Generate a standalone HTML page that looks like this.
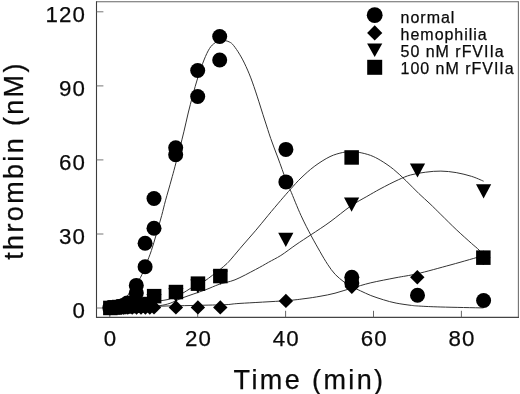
<!DOCTYPE html>
<html><head><meta charset="utf-8"><title>chart</title>
<style>
html,body{margin:0;padding:0;background:#fff;}
body{width:520px;height:394px;overflow:hidden;position:relative;}
svg{will-change:transform;}
svg text{font-family:"Liberation Sans",sans-serif;fill:#0a0a0a;stroke:#0a0a0a;stroke-width:0.25px;}
</style></head><body>
<svg width="520" height="394" viewBox="0 0 520 394" style="position:absolute;left:0;top:0">
<path d="M96.5,1.8 H518.4" stroke="#666" stroke-width="1.1" fill="none"/>
<path d="M518.4,1.3 V318.1" stroke="#707070" stroke-width="1.1" fill="none"/>
<path d="M96.5,1.3 V318" stroke="#3c3c3c" stroke-width="1.1" fill="none"/>
<path d="M96,317.4 H518.9" stroke="#444" stroke-width="1.1" fill="none"/>
<line x1="96.5" x2="103.4" y1="308.0" y2="308.0" stroke="#666" stroke-width="0.9"/>
<line x1="96.5" x2="103.4" y1="234.0" y2="234.0" stroke="#666" stroke-width="0.9"/>
<line x1="96.5" x2="103.4" y1="159.9" y2="159.9" stroke="#666" stroke-width="0.9"/>
<line x1="96.5" x2="103.4" y1="85.9" y2="85.9" stroke="#666" stroke-width="0.9"/>
<line x1="96.5" x2="103.4" y1="11.8" y2="11.8" stroke="#666" stroke-width="0.9"/>
<line y1="317.6" y2="310.8" x1="109.8" x2="109.8" stroke="#555" stroke-width="0.9"/>
<line y1="317.6" y2="310.8" x1="197.7" x2="197.7" stroke="#555" stroke-width="0.9"/>
<line y1="317.6" y2="310.8" x1="285.6" x2="285.6" stroke="#555" stroke-width="0.9"/>
<line y1="317.6" y2="310.8" x1="373.5" x2="373.5" stroke="#555" stroke-width="0.9"/>
<line y1="317.6" y2="310.8" x1="461.4" x2="461.4" stroke="#555" stroke-width="0.9"/>
<path d="M109.5,307.8 C110.4,307.6 113.2,307.0 115.0,306.3 C116.8,305.6 118.3,305.0 120.0,303.8 C121.7,302.6 123.7,300.8 125.2,299.0 C126.8,297.2 127.8,295.1 129.3,293.0 C130.8,290.9 132.2,289.1 134.0,286.5 C135.8,283.9 138.4,281.4 140.4,277.7 C142.4,274.0 144.2,269.0 146.0,264.5 C147.8,260.0 149.7,255.7 151.4,250.5 C153.2,245.3 154.8,239.3 156.5,233.5 C158.2,227.7 160.2,221.1 161.7,215.5 C163.2,209.9 164.0,206.1 165.6,200.2 C167.2,194.3 169.8,185.6 171.3,180.0 C172.9,174.4 173.5,172.1 174.9,166.8 C176.3,161.6 178.2,154.4 179.7,148.5 C181.2,142.6 182.6,137.1 184.0,131.2 C185.4,125.3 186.8,118.9 188.2,113.0 C189.6,107.1 191.1,101.6 192.7,95.6 C194.3,89.6 196.1,82.9 198.0,77.0 C199.9,71.1 202.1,64.8 204.0,60.0 C205.9,55.2 207.7,51.4 209.5,48.5 C211.3,45.6 213.2,44.1 215.0,42.8 C216.8,41.5 218.3,41.1 220.0,40.7 C221.7,40.3 223.5,40.4 225.0,40.6 C226.5,40.8 227.8,41.2 229.0,41.8 C230.2,42.4 231.0,42.6 232.5,44.2 C234.0,45.9 236.0,48.6 238.0,51.7 C240.0,54.9 242.3,58.7 244.4,63.1 C246.5,67.5 248.7,72.4 250.8,77.9 C252.9,83.4 254.8,89.1 257.1,96.1 C259.4,103.1 262.4,113.0 264.7,120.0 C267.0,127.0 268.5,132.1 270.7,138.4 C272.9,144.7 275.4,151.1 278.0,158.0 C280.6,164.9 283.9,174.6 286.0,180.0 C288.1,185.4 287.9,184.3 290.4,190.2 C292.9,196.1 297.5,207.9 301.0,215.5 C304.5,223.1 308.0,229.8 311.2,235.8 C314.4,241.8 317.3,246.8 320.0,251.6 C322.7,256.4 325.1,260.5 327.6,264.3 C330.1,268.1 332.4,271.4 335.2,274.4 C337.9,277.3 341.3,279.9 344.1,282.0 C346.9,284.1 349.2,285.3 352.0,286.8 C354.8,288.3 357.5,289.4 360.6,290.9 C363.7,292.3 367.0,294.0 370.8,295.5 C374.6,297.0 379.3,298.5 383.5,299.8 C387.7,301.1 391.5,302.2 396.1,303.1 C400.8,304.0 407.4,304.9 411.4,305.4 C415.4,305.9 415.1,305.8 420.0,306.1 C424.9,306.4 430.3,306.7 440.9,307.0 C451.5,307.3 476.4,307.8 483.5,307.9" fill="none" stroke="#333" stroke-width="1"/>
<path d="M109.5,307.8 C112.9,307.5 123.9,306.8 130.0,306.0 C136.1,305.2 142.2,303.9 146.0,303.2 C149.8,302.5 150.7,302.4 153.0,302.0 C155.3,301.6 157.5,301.2 160.0,300.8 C162.5,300.4 165.4,300.2 168.0,299.5 C170.6,298.8 173.1,297.6 175.6,296.5 C178.1,295.4 180.6,294.3 183.0,293.0 C185.4,291.7 187.9,289.9 190.3,288.5 C192.7,287.1 195.2,286.0 197.6,284.7 C200.0,283.4 202.6,282.4 205.0,280.8 C207.4,279.2 209.8,277.3 212.3,275.4 C214.8,273.5 217.6,271.5 220.0,269.5 C222.4,267.5 225.0,265.4 227.0,263.5 C229.0,261.6 229.3,261.1 232.0,258.0 C234.7,254.9 239.1,249.5 243.0,245.0 C246.9,240.5 251.2,235.7 255.4,230.8 C259.6,225.9 263.8,220.6 268.0,215.5 C272.2,210.4 277.0,204.8 280.8,200.3 C284.6,195.9 287.5,192.5 290.9,188.8 C294.3,185.1 297.1,181.7 301.0,178.0 C304.9,174.3 309.4,170.1 314.2,166.5 C319.0,162.9 325.2,158.9 330.0,156.6 C334.8,154.3 339.2,153.3 342.7,152.5 C346.2,151.7 348.2,151.8 351.0,151.8 C353.8,151.8 355.9,151.8 359.2,152.4 C362.5,153.0 367.0,154.1 370.6,155.4 C374.2,156.8 377.0,158.2 380.8,160.5 C384.6,162.8 389.3,165.9 393.5,169.3 C397.7,172.7 401.9,176.8 406.1,180.8 C410.3,184.8 414.8,189.7 418.8,193.5 C422.8,197.3 426.3,200.3 430.0,203.8 C433.7,207.3 436.5,210.2 440.9,214.5 C445.3,218.8 451.1,224.7 456.2,229.5 C461.3,234.3 467.6,239.9 471.4,243.3 C475.2,246.7 476.9,247.8 479.0,250.0 C481.1,252.2 483.0,255.4 483.8,256.5" fill="none" stroke="#333" stroke-width="1"/>
<path d="M109.5,307.8 C112.9,307.7 123.9,307.5 130.0,307.3 C136.1,307.1 141.0,307.1 146.0,306.8 C151.0,306.5 156.0,306.2 160.0,305.6 C164.0,305.0 166.2,304.6 170.0,303.3 C173.8,302.0 177.2,299.9 183.0,297.7 C188.8,295.5 199.0,292.2 205.0,290.0 C211.0,287.8 214.2,286.0 219.2,284.3 C224.2,282.6 229.0,282.2 235.0,279.8 C241.0,277.4 249.8,272.5 255.4,269.6 C261.0,266.7 264.3,264.7 268.5,262.3 C272.7,259.9 276.2,258.4 280.8,255.5 C285.4,252.6 290.9,248.2 296.0,244.7 C301.1,241.2 305.5,238.4 311.2,234.6 C316.9,230.8 323.4,226.7 330.0,221.9 C336.6,217.1 344.7,210.2 350.8,206.0 C356.9,201.8 361.9,199.3 366.8,196.5 C371.7,193.7 374.8,191.8 380.0,189.0 C385.2,186.2 393.2,182.1 398.3,179.8 C403.4,177.5 405.9,176.3 410.5,175.0 C415.1,173.7 420.6,172.8 425.7,172.2 C430.8,171.5 435.8,171.0 440.9,171.1 C446.0,171.2 451.1,171.7 456.2,172.6 C461.3,173.5 466.8,174.9 471.4,176.3 C476.0,177.7 481.6,180.4 483.6,181.2" fill="none" stroke="#333" stroke-width="1"/>
<path d="M109.5,308.0 C117.9,307.7 144.1,306.7 160.0,306.2 C175.9,305.7 193.8,305.5 205.0,305.2 C216.2,304.9 221.2,304.9 227.0,304.6 C232.8,304.3 230.2,304.0 240.0,303.4 C249.8,302.8 274.8,301.5 285.6,300.7 C296.4,299.9 299.3,299.3 305.0,298.6 C310.7,297.9 315.0,297.2 320.0,296.3 C325.0,295.4 329.7,294.6 335.0,293.2 C340.3,291.8 345.6,289.9 351.6,288.2 C357.6,286.5 363.4,284.6 370.8,282.8 C378.2,281.1 388.3,279.2 396.0,277.7 C403.7,276.2 407.8,275.9 417.0,273.8 C426.2,271.7 439.9,267.8 451.0,264.8 C462.1,261.8 478.1,257.1 483.5,255.6" fill="none" stroke="#333" stroke-width="1"/>
<path d="M110.3,300.4 L117.5,307.6 L110.3,314.8 L103.1,307.6 Z" fill="#000"/>
<path d="M114.7,300.4 L121.9,307.6 L114.7,314.8 L107.5,307.6 Z" fill="#000"/>
<path d="M119.1,300.4 L126.3,307.6 L119.1,314.8 L111.9,307.6 Z" fill="#000"/>
<path d="M123.5,300.4 L130.7,307.6 L123.5,314.8 L116.3,307.6 Z" fill="#000"/>
<path d="M127.8,300.4 L135.0,307.6 L127.8,314.8 L120.6,307.6 Z" fill="#000"/>
<path d="M132.2,300.4 L139.4,307.6 L132.2,314.8 L125.0,307.6 Z" fill="#000"/>
<path d="M136.6,300.4 L143.8,307.6 L136.6,314.8 L129.4,307.6 Z" fill="#000"/>
<path d="M141.0,300.3 L148.2,307.5 L141.0,314.7 L133.8,307.5 Z" fill="#000"/>
<path d="M145.4,300.3 L152.6,307.5 L145.4,314.7 L138.2,307.5 Z" fill="#000"/>
<path d="M149.8,300.3 L157.0,307.5 L149.8,314.7 L142.6,307.5 Z" fill="#000"/>
<path d="M154.0,300.2 L161.2,307.4 L154.0,314.6 L146.8,307.4 Z" fill="#000"/>
<path d="M175.9,300.2 L183.1,307.4 L175.9,314.6 L168.7,307.4 Z" fill="#000"/>
<path d="M197.9,300.2 L205.1,307.4 L197.9,314.6 L190.7,307.4 Z" fill="#000"/>
<path d="M220.3,300.2 L227.5,307.4 L220.3,314.6 L213.1,307.4 Z" fill="#000"/>
<path d="M285.9,293.7 L293.1,300.9 L285.9,308.1 L278.7,300.9 Z" fill="#000"/>
<path d="M351.8,279.6 L359.0,286.8 L351.8,294.0 L344.6,286.8 Z" fill="#000"/>
<path d="M417.3,270.1 L424.5,277.3 L417.3,284.5 L410.1,277.3 Z" fill="#000"/>
<path d="M483.3,250.5 L490.5,257.7 L483.3,264.9 L476.1,257.7 Z" fill="#000"/>
<path d="M278.2,232.8 L293.4,232.8 L285.8,247.0 Z" fill="#000"/>
<path d="M344.0,197.5 L359.2,197.5 L351.6,211.7 Z" fill="#000"/>
<path d="M409.9,163.4 L425.1,163.4 L417.5,177.6 Z" fill="#000"/>
<path d="M476.0,184.2 L491.2,184.2 L483.6,198.4 Z" fill="#000"/>
<path d="M190.3,279.4 L205.5,279.4 L197.9,293.6 Z" fill="#000"/>
<path d="M212.7,270.5 L227.9,270.5 L220.3,284.7 Z" fill="#000"/>
<path d="M168.3,288.2 L183.5,288.2 L175.9,302.4 Z" fill="#000"/>
<path d="M146.4,294.2 L161.6,294.2 L154.0,308.4 Z" fill="#000"/>
<rect x="103.1" y="300.7" width="14.5" height="14.5" fill="#000"/>
<rect x="107.5" y="300.2" width="14.5" height="14.5" fill="#000"/>
<rect x="112.0" y="299.8" width="14.5" height="14.5" fill="#000"/>
<rect x="116.3" y="299.2" width="14.5" height="14.5" fill="#000"/>
<rect x="120.6" y="298.8" width="14.5" height="14.5" fill="#000"/>
<rect x="125.1" y="298.4" width="14.5" height="14.5" fill="#000"/>
<rect x="129.5" y="298.1" width="14.5" height="14.5" fill="#000"/>
<rect x="133.8" y="297.8" width="14.5" height="14.5" fill="#000"/>
<rect x="138.2" y="297.2" width="14.5" height="14.5" fill="#000"/>
<rect x="142.6" y="296.8" width="14.5" height="14.5" fill="#000"/>
<rect x="146.9" y="288.9" width="14.5" height="14.5" fill="#000"/>
<rect x="168.7" y="284.8" width="14.5" height="14.5" fill="#000"/>
<rect x="190.7" y="276.4" width="14.5" height="14.5" fill="#000"/>
<rect x="213.1" y="268.8" width="14.5" height="14.5" fill="#000"/>
<rect x="344.4" y="150.2" width="14.5" height="14.5" fill="#000"/>
<rect x="476.1" y="250.4" width="14.5" height="14.5" fill="#000"/>
<circle cx="219.7" cy="36.5" r="7.5" fill="#000"/>
<circle cx="219.7" cy="60.0" r="7.5" fill="#000"/>
<circle cx="197.7" cy="70.5" r="7.5" fill="#000"/>
<circle cx="197.7" cy="96.5" r="7.5" fill="#000"/>
<circle cx="175.7" cy="147.7" r="7.5" fill="#000"/>
<circle cx="175.7" cy="154.8" r="7.5" fill="#000"/>
<circle cx="154.0" cy="198.5" r="7.5" fill="#000"/>
<circle cx="154.0" cy="228.3" r="7.5" fill="#000"/>
<circle cx="145.1" cy="243.2" r="7.5" fill="#000"/>
<circle cx="145.1" cy="266.8" r="7.5" fill="#000"/>
<circle cx="136.3" cy="285.4" r="7.5" fill="#000"/>
<circle cx="136.3" cy="293.0" r="7.5" fill="#000"/>
<circle cx="285.9" cy="149.4" r="7.5" fill="#000"/>
<circle cx="285.9" cy="181.9" r="7.5" fill="#000"/>
<circle cx="351.8" cy="277.2" r="7.5" fill="#000"/>
<circle cx="351.8" cy="283.0" r="7.5" fill="#000"/>
<circle cx="417.5" cy="295.3" r="7.5" fill="#000"/>
<circle cx="483.6" cy="300.5" r="7.5" fill="#000"/>
<circle cx="127.3" cy="303.0" r="7.5" fill="#000"/>
<circle cx="123.0" cy="305.5" r="7.5" fill="#000"/>
<circle cx="118.6" cy="306.8" r="7.5" fill="#000"/>
<circle cx="114.2" cy="307.4" r="7.5" fill="#000"/>
<circle cx="109.8" cy="307.7" r="7.5" fill="#000"/>
<circle cx="374.7" cy="15.2" r="7.9" fill="#000"/>
<path d="M374.7,25.3 L382.3,32.9 L374.7,40.5 L367.1,32.9 Z" fill="#000"/>
<path d="M367.1,43.4 L382.3,43.4 L374.7,57.1 Z" fill="#000"/>
<rect x="367.2" y="59.8" width="15" height="15" fill="#000"/>
<text x="86.1" y="318.2" font-size="22.3" text-anchor="end" letter-spacing="1.10" >0</text>
<text x="86.1" y="244.2" font-size="22.3" text-anchor="end" letter-spacing="1.10" >30</text>
<text x="86.1" y="170.1" font-size="22.3" text-anchor="end" letter-spacing="1.10" >60</text>
<text x="86.1" y="96.1" font-size="22.3" text-anchor="end" letter-spacing="1.10" >90</text>
<text x="86.1" y="22.0" font-size="22.3" text-anchor="end" letter-spacing="1.10" >120</text>
<text x="110.5" y="346.1" font-size="22.3" text-anchor="middle" letter-spacing="1.10" >0</text>
<text x="198.4" y="346.1" font-size="22.3" text-anchor="middle" letter-spacing="1.10" >20</text>
<text x="286.3" y="346.1" font-size="22.3" text-anchor="middle" letter-spacing="1.10" >40</text>
<text x="374.2" y="346.1" font-size="22.3" text-anchor="middle" letter-spacing="1.10" >60</text>
<text x="462.1" y="346.1" font-size="22.3" text-anchor="middle" letter-spacing="1.10" >80</text>
<text x="400.6" y="22.8" font-size="16.0" text-anchor="start" letter-spacing="0.97" >normal</text>
<text x="400.6" y="39.9" font-size="16.0" text-anchor="start" letter-spacing="0.97" >hemophilia</text>
<text x="400.6" y="57.0" font-size="16.0" text-anchor="start" letter-spacing="0.97" >50 nM rFVIIa</text>
<text x="400.6" y="74.1" font-size="16.0" text-anchor="start" letter-spacing="0.97" >100 nM rFVIIa</text>
<text x="309.5" y="389.0" font-size="27.0" text-anchor="middle" letter-spacing="2.40" >Time (min)</text>
<text transform="translate(22.5,160.5) rotate(-90)" font-size="27" text-anchor="middle" letter-spacing="2.35">thrombin (nM)</text>
</svg>
</body></html>
